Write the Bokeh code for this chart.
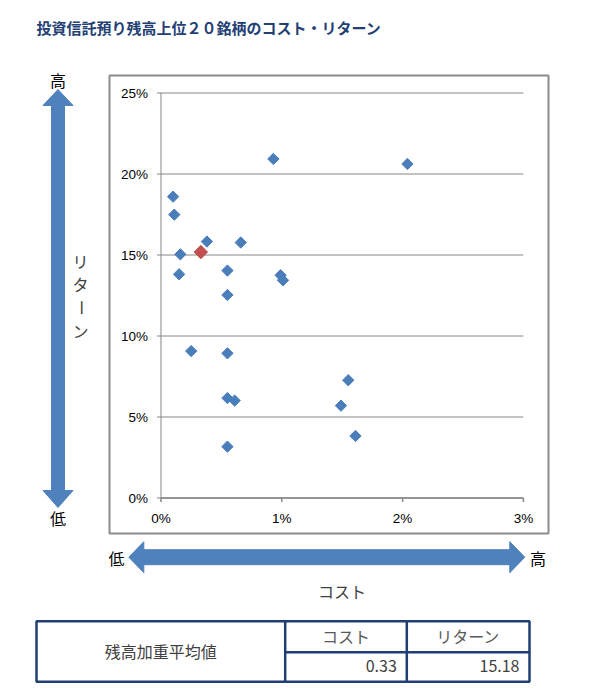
import math

from bokeh.core.properties import value
from bokeh.embed import file_html
from bokeh.models import Range1d
from bokeh.plotting import figure
from bokeh.resources import INLINE

# ---- data -----------------------------------------------------------------
TITLE = "投資信託預り残高上位２０銘柄のコスト・リターン"

# cost (%) and return (%) of the top 20 funds by balance
cost = [0.93, 2.04, 0.10, 0.11, 0.38, 0.66, 0.16, 0.55, 0.15, 0.99,
        1.01, 0.55, 0.25, 0.55, 1.55, 0.55, 0.61, 1.49, 1.61, 0.55]
ret = [20.93, 20.62, 18.60, 17.49, 15.83, 15.77, 15.04, 14.04, 13.81, 13.75,
       13.44, 12.53, 9.07, 8.93, 7.27, 6.17, 6.01, 5.70, 3.83, 3.17]

# balance-weighted average
avg_cost = [0.33]
avg_ret = [15.18]

x_ticks = [0, 1, 2, 3]
x_tick_labels = ["0%", "1%", "2%", "3%"]
y_ticks = [0, 5, 10, 15, 20, 25]
y_tick_labels = ["0%", "5%", "10%", "15%", "20%", "25%"]

table_row_label = "残高加重平均値"
table_headers = ["コスト", "リターン"]
x_title = "コスト"
y_title = "リターン"

# ---- layout (pixels on a 600 x 700 page) ------------------------------------
W, H = 600, 700
X0_PX, PX_PER_X = 160.5, 120.8      # where cost 0% sits, pixels per 1%
Y0_PX, PX_PER_Y = 497.5, 16.2       # where return 0% sits, pixels per 1%

JP = value("Noto Sans CJK JP")
LAT = value("Liberation Sans")
BLUE = "#4a7ebb"
ARROW = "#4f81bd"
RED = "#c0504d"
GRID = "#868686"
NAVY = "#1f3f73"

p = figure(width=W, height=H, output_backend="svg", toolbar_location=None,
           x_range=Range1d(0, W), y_range=Range1d(H, 0),
           x_axis_location=None, y_axis_location=None,
           min_border=0, outline_line_color=None,
           background_fill_color="white", border_fill_color="white")
p.grid.visible = False
p.extra_x_ranges = {"cost": Range1d(-X0_PX / PX_PER_X, (W - X0_PX) / PX_PER_X)}
p.extra_y_ranges = {"ret": Range1d(-(H - Y0_PX) / PX_PER_Y, Y0_PX / PX_PER_Y)}
DATA = dict(x_range_name="cost", y_range_name="ret")

# title
p.text(x=[36], y=[27], text=[TITLE], text_font=JP, text_font_style="bold",
       text_font_size="15px", text_color="#243f73", text_baseline="middle")

# chart frame
p.quad(left=[109], right=[548], top=[75], bottom=[533], fill_color=None,
       line_color="#8c8c8c", line_width=2)

# horizontal grid lines and axes
p.segment(x0=[x_ticks[0]] * len(y_ticks), x1=[x_ticks[-1]] * len(y_ticks),
          y0=y_ticks, y1=y_ticks, line_color=GRID, line_width=1, **DATA)
p.segment(x0=[0], x1=[0], y0=[y_ticks[0]], y1=[y_ticks[-1]],
          line_color=GRID, line_width=1, **DATA)
p.segment(x0=[x_ticks[0]], x1=[x_ticks[-1]], y0=[0], y1=[0],
          line_color=GRID, line_width=1.5, **DATA)
p.ray(x=[0] * len(y_ticks), y=y_ticks, length=4, length_units="screen",
      angle=math.pi, line_color=GRID, line_width=1, **DATA)
p.ray(x=x_ticks, y=[0] * len(x_ticks), length=4, length_units="screen",
      angle=-math.pi / 2, line_color=GRID, line_width=1.5, **DATA)

# tick labels
p.text(x=[0] * len(y_ticks), y=y_ticks, text=y_tick_labels, x_offset=-13,
       text_align="right", text_baseline="middle", text_font=LAT,
       text_font_size="13.5px", text_color="#000000", **DATA)
p.text(x=x_ticks, y=[0] * len(x_ticks), text=x_tick_labels, y_offset=20,
       text_align="center", text_baseline="middle", text_font=LAT,
       text_font_size="13.5px", text_color="#000000", **DATA)

# funds and the weighted average
p.scatter(x=cost, y=ret, marker="square", angle=math.pi / 4, size=8,
          fill_color=BLUE, line_color=BLUE, **DATA)
p.scatter(x=avg_cost, y=avg_ret, marker="square", angle=math.pi / 4, size=9.5,
          fill_color=RED, line_color=RED, **DATA)

# vertical double arrow (return)
cx, sw, hw = 57.5, 6.5, 15
top, top_b, bot_b, bot = 89, 105, 490, 507
p.patch(x=[cx, cx - hw, cx - sw, cx - sw, cx - hw, cx, cx + hw, cx + sw, cx + sw, cx + hw],
        y=[top, top_b, top_b, bot_b, bot_b, bot, bot_b, bot_b, top_b, top_b],
        fill_color=ARROW, line_color=ARROW)
p.text(x=[cx, cx], y=[79, 517.5], text=["高", "低"], text_align="center",
       text_baseline="middle", text_font=JP, text_font_size="16px",
       text_color="#000000")
for i, ch in enumerate(y_title):
    p.text(x=[80], y=[260 + 23.5 * i], text=[ch], text_align="center",
           text_baseline="middle", text_font=JP, text_font_size="16px",
           text_color="#404040", angle=(math.pi / 2 if ch == "ー" else 0))

# horizontal double arrow (cost)
cy, sh, hh = 556.7, 7.5, 15.5
lft, lft_b, rgt_b, rgt = 128.3, 143.3, 509.3, 524.3
p.patch(x=[lft, lft_b, lft_b, rgt_b, rgt_b, rgt, rgt_b, rgt_b, lft_b, lft_b],
        y=[cy, cy - hh, cy - sh, cy - sh, cy - hh, cy, cy + hh, cy + sh, cy + sh, cy + hh],
        fill_color=ARROW, line_color=ARROW)
p.text(x=[116, 537.5], y=[557, 557], text=["低", "高"], text_align="center",
       text_baseline="middle", text_font=JP, text_font_size="16px",
       text_color="#000000")
p.text(x=[341.5], y=[590], text=[x_title], text_align="center",
       text_baseline="middle", text_font=JP, text_font_size="16px",
       text_color="#404040")

# summary table
tl, tr, tt, tb = 36, 529, 620.7, 681.3
c1, c2, mid = 284.7, 406.3, 651.7
p.quad(left=[tl], right=[tr], top=[tt], bottom=[tb], fill_color=None,
       line_color=NAVY, line_width=2.5)
p.segment(x0=[c1, c2, c1], x1=[c1, c2, tr], y0=[tt, tt, mid], y1=[tb, tb, mid],
          line_color=NAVY, line_width=2.5)
p.text(x=[(tl + c1) / 2], y=[650], text=[table_row_label], text_align="center",
       text_baseline="middle", text_font=JP, text_font_size="16px",
       text_color="#404040")
p.text(x=[(c1 + c2) / 2, (c2 + tr) / 2], y=[635, 635], text=table_headers,
       text_align="center", text_baseline="middle", text_font=JP,
       text_font_size="16px", text_color="#595959")
p.text(x=[c2 - 10, tr - 10], y=[665, 665],
       text=[f"{avg_cost[0]:.2f}", f"{avg_ret[0]:.2f}"], text_align="right",
       text_baseline="middle", text_font=JP, text_font_size="16px",
       text_color="#404040")

open("out.html", "w").write(file_html(p, INLINE))
